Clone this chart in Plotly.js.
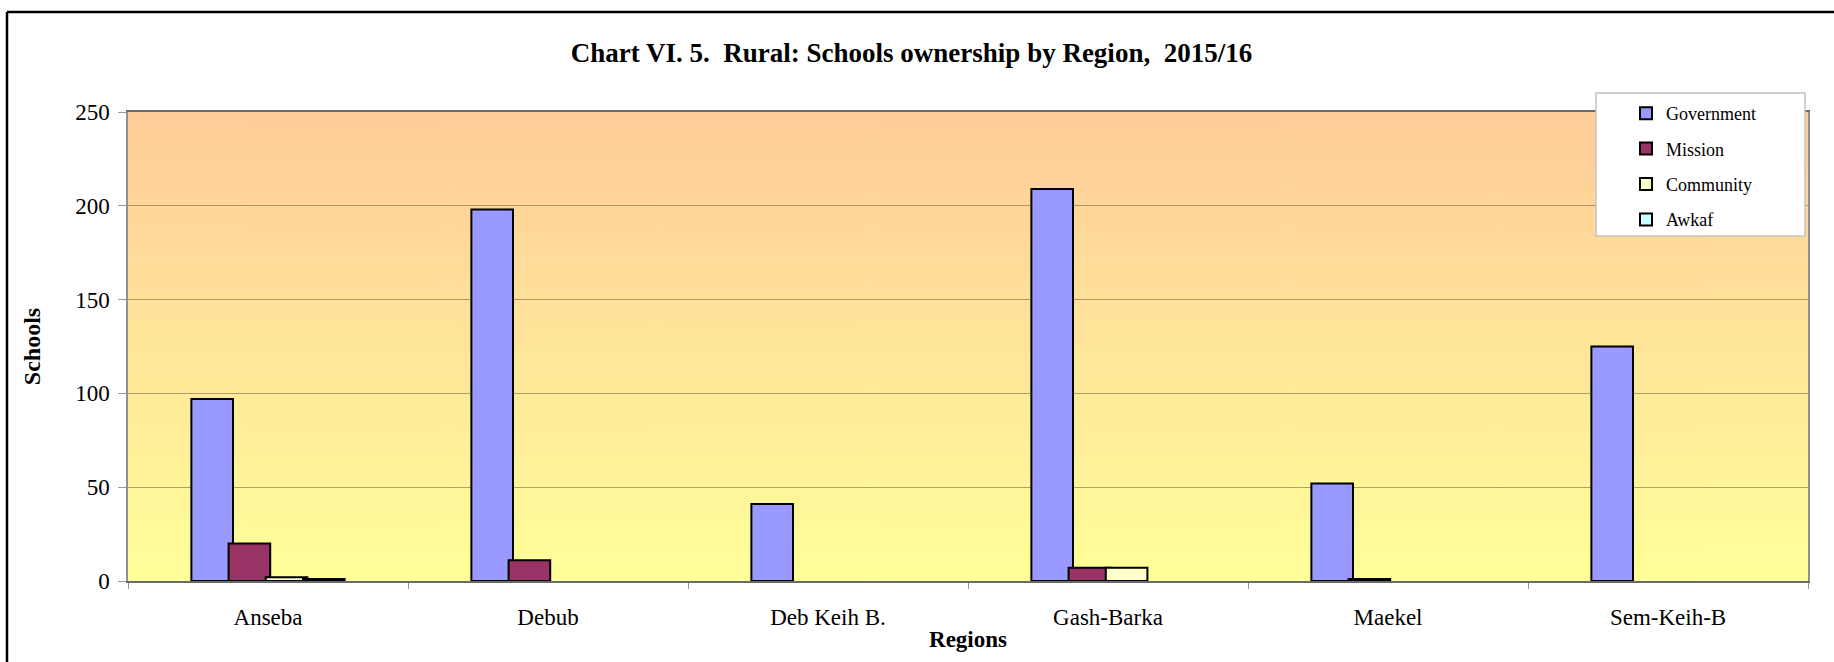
<!DOCTYPE html>
<html>
<head>
<meta charset="utf-8">
<script src="https://cdn.plot.ly/plotly-3.0.1.min.js"></script>
<style>
  html, body { margin: 0; padding: 0; background: #ffffff; }
  #chart { width: 1834px; height: 662px; }
</style>
</head>
<body>
<div id="chart"></div>
<script>
// ---- Data ----
const regions = ["Anseba", "Debub", "Deb Keih B.", "Gash-Barka", "Maekel", "Sem-Keih-B"];
const government = [97, 198, 41, 209, 52, 125];
const mission    = [20, 11, 0, 7, 1, 0];
const community  = [2, 0, 0, 7, 0, 0];
const awkaf      = [1, 0, 0, 0, 0, 0];
const seriesNames = ["Government", "Mission", "Community", "Awkaf"];
const yTicks = [0, 50, 100, 150, 200, 250];

// ---- Styles ----
const colors = ["#9999FF", "#993366", "#FFFFCC", "#CCFFFF"];
const barWidth = 0.1486;
const barPitch = 0.1329;
const serif = "'Liberation Serif', 'Times New Roman', Times, serif";

const seriesValues = [government, mission, community, awkaf];
const traces = seriesValues.map((vals, i) => ({
  type: "bar",
  name: seriesNames[i],
  x: regions,
  y: vals,
  width: barWidth,
  offset: (i - 1.5) * barPitch - barWidth / 2,
  legendgroup: "g" + i,
  marker: {
    color: colors[i],
    line: { color: "#000000", width: vals.map(v => (v === 0 ? 0 : 2)) }
  },
  hoverinfo: "x+y+name"
}));

// Gradient background for the plot area
const cv = document.createElement("canvas");
cv.width = 8; cv.height = 469;
const ctx = cv.getContext("2d");
const grd = ctx.createLinearGradient(0, 0, 0, 469);
grd.addColorStop(0, "#FFCC99");
grd.addColorStop(1, "#FFFF99");
ctx.fillStyle = grd;
ctx.fillRect(0, 0, 8, 469);
const bgURL = cv.toDataURL("image/png");

const layout = {
  width: 1834,
  height: 662,
  margin: { l: 128, r: 26, t: 112, b: 81, pad: 0 },
  paper_bgcolor: "#ffffff",
  plot_bgcolor: "rgba(0,0,0,0)",
  barmode: "overlay",
  font: { family: serif, color: "#000000", size: 23 },
  title: {
    text: "<b>Chart VI. 5.  Rural: Schools ownership by Region,  2015/16</b>",
    font: { family: serif, size: 27, color: "#000000" },
    x: 0.497, xref: "container", xanchor: "center",
    y: 1 - 53 / 662, yref: "container", yanchor: "middle"
  },
  xaxis: {
    type: "category",
    range: [-0.5, 5.5],
    tickson: "boundaries",
    ticks: "outside",
    ticklen: 6,
    tickcolor: "#999999",
    tickwidth: 1,
    showgrid: false,
    showline: true,
    mirror: true,
    linecolor: "#6a6a6a",
    linewidth: 2,
    tickfont: { family: serif, size: 23, color: "#000000" },
    ticklabelstandoff: 14,
    title: {
      text: "<b>Regions</b>",
      font: { family: serif, size: 23, color: "#000000" },
      standoff: 2
    },
    fixedrange: true
  },
  yaxis: {
    range: [0, 250],
    tickvals: yTicks,
    ticktext: yTicks.map(String),
    ticks: "outside",
    ticklen: 8,
    tickcolor: "#999999",
    tickwidth: 1,
    showgrid: true,
    gridcolor: "rgba(120,105,70,0.6)",
    gridwidth: 1,
    zeroline: false,
    showline: true,
    mirror: true,
    linecolor: "#909090",
    linewidth: 1.5,
    tickfont: { family: serif, size: 23, color: "#000000" },
    ticklabelstandoff: 4,
    title: {
      text: "<b>Schools</b>",
      font: { family: serif, size: 24, color: "#000000" },
      standoff: 28
    },
    fixedrange: true
  },
  images: [{
    source: bgURL,
    xref: "paper", yref: "paper",
    x: 0, y: 1, sizex: 1, sizey: 1,
    xanchor: "left", yanchor: "top",
    sizing: "stretch",
    layer: "below"
  }],
  shapes: [
    // outer chart border (top and left)
    { type: "line", xref: "paper", yref: "paper",
      x0: (7 - 128) / 1680, x1: 1.05, y0: (581 - 12) / 469, y1: (581 - 12) / 469,
      line: { color: "#000000", width: 2.5 }, layer: "above" },
    { type: "line", xref: "paper", yref: "paper",
      x0: (7 - 128) / 1680, x1: (7 - 128) / 1680, y0: (581 - 12) / 469, y1: -0.25,
      line: { color: "#000000", width: 2.5 }, layer: "above" },
    // legend box
    { type: "rect", xref: "paper", yref: "paper",
      x0: (1596 - 128) / 1680, x1: (1805 - 128) / 1680,
      y0: (581 - 236) / 469, y1: (581 - 93) / 469,
      fillcolor: "#ffffff", line: { color: "#c4c4c4", width: 1.5 }, layer: "above" }
  ],
  showlegend: true,
  legend: {
    x: (1626 - 128) / 1680,
    y: (581 - 95) / 469,
    xanchor: "left",
    yanchor: "top",
    bgcolor: "rgba(0,0,0,0)",
    borderwidth: 0,
    tracegroupgap: 9,
    traceorder: "grouped",
    font: { family: serif, size: 18, color: "#000000" }
  },
  hovermode: "closest"
};

Plotly.newPlot("chart", traces, layout, { displayModeBar: false, responsive: false });
</script>
</body>
</html>
